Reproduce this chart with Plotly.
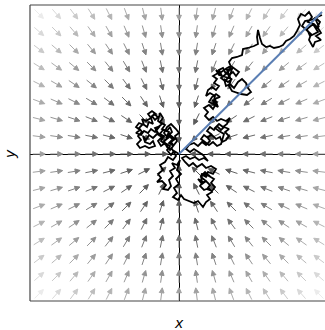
import numpy as np
import plotly.graph_objects as go

# Grid of the vector field (data units; one grid step = 17.5 units)
GRID_STEP = 17.5
GRID_INDEX = list(range(-8, 9))

# Random-walk path as (x, y) pairs in data units, origin at the centre
walk_points = [
    (0, 0), (-5, 3), (-8, -1), (-12, 4), (-9, 8), (-14, 11), (-18, 8), (-21, 13), (-17, 17), (-22, 20),
    (-26, 16), (-30, 19), (-33, 14), (-36, 18), (-34, 12), (-29, 10), (-26, 13), (-24, 8), (-30, 6), (-34, 8),
    (-39, 6), (-42, 10), (-38, 14), (-41, 18), (-37, 22), (-40, 26), (-36, 30), (-32, 27), (-30, 32), (-26, 30),
    (-28, 36), (-25, 40), (-21, 37),
    (-24, 34), (-27, 38), (-23, 40), (-27, 43), (-31, 40), (-28, 36), (-33, 33), (-37, 35), (-35, 29), (-40, 31),
    (-43, 27), (-39, 24), (-43, 21), (-38, 19), (-35, 23), (-31, 21), (-28, 25), (-24, 22), (-21, 27), (-17, 30),
    (-21, 33),
    (-19, 41), (-16, 36), (-19, 32), (-14, 29), (-17, 25), (-12, 23), (-9, 27),
    (-7, 22), (-11, 18), (-6, 15), (-10, 11), (-5, 8),
    (-8, 12), (-4, 15), (-9, 19), (-13, 16), (-10, 22), (-16, 24), (-20, 19), (-23, 23), (-19, 28), (-24, 26),
    (-21, 21), (-15, 18), (-18, 13), (-13, 9), (-9, 4),
    (-2, 13), (-4, 18), (0, 21), (-3, 25), (-8, 30), (-12, 27), (-15, 21), (-11, 16), (-15, 13), (-12, 7),
    (-7, 5), (-3, -2), (-6, -6), (-11, -3), (-14, -8),
    (-19, -11), (-16, -16), (-21, -20), (-18, -24), (-22, -28), (-17, -27), (-13, -31), (-16, -35), (-11, -36), (-8, -32),
    (-10, -26), (-6, -22), (-9, -17), (-4, -14), (-7, -9), (-2, -11), (1, -6), (-2, -16), (2, -20), (-3, -25),
    (0, -30), (-5, -34), (-2, -39), (-6, -43), (-1, -46), (2, -41), (5, -45), (10, -47), (15, -49), (19, -47),
    (24, -53), (27, -48), (31, -45), (28, -41), (33, -38), (30, -34), (25, -36), (21, -32), (24, -28), (19, -25),
    (23, -30), (27, -27), (31, -31), (28, -35), (33, -37), (36, -33), (32, -29), (35, -25), (30, -22), (26, -18),
    (22, -22),
    (23, -29), (27, -27), (22, -23), (26, -19), (31, -22),
    (22, -20), (27, -23), (29, -18), (34, -20), (37, -15), (32, -12), (27, -14), (23, -10), (18, -13), (14, -9),
    (10, -12), (6, -8), (3, -4), (7, -2), (11, -5), (16, -3), (20, -6), (25, -4), (29, -7), (24, -1),
    (19, 2), (15, 5), (11, 2), (7, 5), (10, 9), (15, 11), (19, 8), (23, 12), (27, 9), (31, 13),
    (28, 17), (33, 19), (37, 15), (41, 17), (43, 12), (47, 14),
    (50, 18), (46, 22), (50, 25), (45, 27), (42, 24), (38, 28), (35, 24), (31, 27), (28, 23), (32, 20),
    (29, 16), (25, 19), (22, 15), (26, 12), (30, 9), (34, 12), (38, 8), (42, 10),
    (45, 20), (40, 23), (36, 26), (40, 30),
    (44, 27), (48, 30), (51, 36), (47, 33), (42, 35), (38, 33), (34, 37), (30, 34), (26, 38), (29, 42),
    (25, 46), (30, 49), (34, 45), (37, 50), (33, 54),
    (38, 52), (35, 49), (39, 47), (36, 55), (41, 57), (37, 60), (33, 57), (30, 52), (34, 50),
    (36, 58), (31, 61), (27, 58), (29, 64), (33, 67),
    (37, 64), (40, 68), (35, 71), (38, 75), (34, 78), (39, 81), (43, 78),
    (40, 84), (44, 86), (47, 80), (42, 76), (46, 73), (50, 77), (48, 84), (53, 85), (51, 79),
    (46, 82), (50, 79), (54, 82), (57, 78),
    (60, 82), (56, 85), (52, 88), (48, 86), (45, 84), (41, 81), (37, 84), (40, 79),
    (53, 75), (49, 72), (45, 75), (47, 68), (51, 70), (55, 66), (59, 72), (63, 75), (67, 71),
    (69, 66), (72, 62), (68, 59), (62, 60), (57, 62), (53, 63), (50, 68), (52, 74), (49, 82), (52, 87),
    (50, 92), (53, 96), (58, 97), (63, 99), (64, 105), (69, 106), (75, 108), (79, 110), (78, 117), (79, 124),
    (81, 116), (83, 110), (87, 107), (91, 108), (95, 106), (100, 107), (104, 109), (107, 113), (111, 115), (115, 118),
    (118, 123), (121, 129), (119, 135), (122, 140), (126, 138), (130, 142), (133, 137), (129, 132), (135, 130), (139, 126),
    (142, 121), (137, 118), (142, 114), (136, 112), (134, 107), (130, 114), (132, 120), (127, 124), (123, 128), (126, 133),
    (132, 134), (137, 136), (141, 132),
    (138, 126), (134, 130), (139, 122), (131, 118), (128, 125), (133, 129), (140, 127), (136, 136), (143, 139),
]
walk_x = [p[0] for p in walk_points]
walk_y = [p[1] for p in walk_points]

# Drift line end point
drift_x = [0, 143]
drift_y = [0, 142]

ARROW_LEN = 12.5
HEAD_LEN = 5.0
HEAD_HW = 2.4

fig = go.Figure()

groups = {}
for i in GRID_INDEX:
    for j in GRID_INDEX:
        if i == 0 and j == 0:
            continue
        groups.setdefault(i * i + j * j, []).append((i, j))

r2max = 2 * 8 * 8
for r2, pts in sorted(groups.items()):
    frac = r2 / r2max
    g = int(round(85 + 150 * frac))
    col = f"rgb({g},{g},{g})"
    xs, ys = [], []
    for i, j in pts:
        x0, y0 = i * GRID_STEP, j * GRID_STEP
        r = np.hypot(x0, y0)
        u, v = -x0 / r, -y0 / r
        tx, ty = x0 - u * ARROW_LEN / 2, y0 - v * ARROW_LEN / 2
        hx, hy = x0 + u * ARROW_LEN / 2, y0 + v * ARROW_LEN / 2
        bx, by = hx - u * HEAD_LEN, hy - v * HEAD_LEN
        px, py = -v * HEAD_HW, u * HEAD_HW
        xs += [tx, bx, bx + px, hx, bx - px, bx, None]
        ys += [ty, by, by + py, hy, by - py, by, None]
    fig.add_trace(go.Scatter(x=xs, y=ys, mode="lines", fill="toself",
                             line=dict(color=col, width=1), fillcolor=col,
                             hoverinfo="skip", showlegend=False))

fig.add_trace(go.Scatter(x=walk_x, y=walk_y, mode="lines",
                         line=dict(color="black", width=1.8),
                         hoverinfo="skip", showlegend=False))
fig.add_trace(go.Scatter(x=drift_x, y=drift_y, mode="lines",
                         line=dict(color="#5b7fb4", width=2),
                         hoverinfo="skip", showlegend=False))

axis_common = dict(showgrid=False, showticklabels=False, ticks="",
                   zeroline=True, zerolinecolor="black", zerolinewidth=1,
                   showline=False, fixedrange=True)
fig.update_layout(
    width=325, height=330,
    margin=dict(l=30, r=0, t=5, b=29),
    paper_bgcolor="white", plot_bgcolor="white",
    xaxis=dict(range=[-149, 146], **axis_common),
    yaxis=dict(range=[-147, 149], **axis_common),
    shapes=[
        dict(type="line", xref="paper", yref="paper", x0=0, x1=0, y0=0, y1=1,
             line=dict(color="#444", width=1.2)),
        dict(type="line", xref="paper", yref="paper", x0=0, x1=1, y0=1, y1=1,
             line=dict(color="#444", width=1.2)),
        dict(type="line", xref="paper", yref="paper", x0=0, x1=1, y0=0, y1=0,
             line=dict(color="#444", width=1.2)),
    ],
    annotations=[
        dict(text="<i>x</i>", xref="x", x=0, yref="paper", y=0, yshift=-22,
             showarrow=False, yanchor="middle", xanchor="center",
             font=dict(family="DejaVu Sans", size=14, color="black")),
        dict(text="<i>y</i>", xref="paper", x=0, xshift=-20, yref="y", y=0,
             showarrow=False, textangle=-90, xanchor="center", yanchor="middle",
             font=dict(family="DejaVu Sans", size=14, color="black")),
    ],
)

fig.write_html("out.html", config={"displayModeBar": False},
               post_script="document.body.style.margin='0';document.body.style.padding='0';")
